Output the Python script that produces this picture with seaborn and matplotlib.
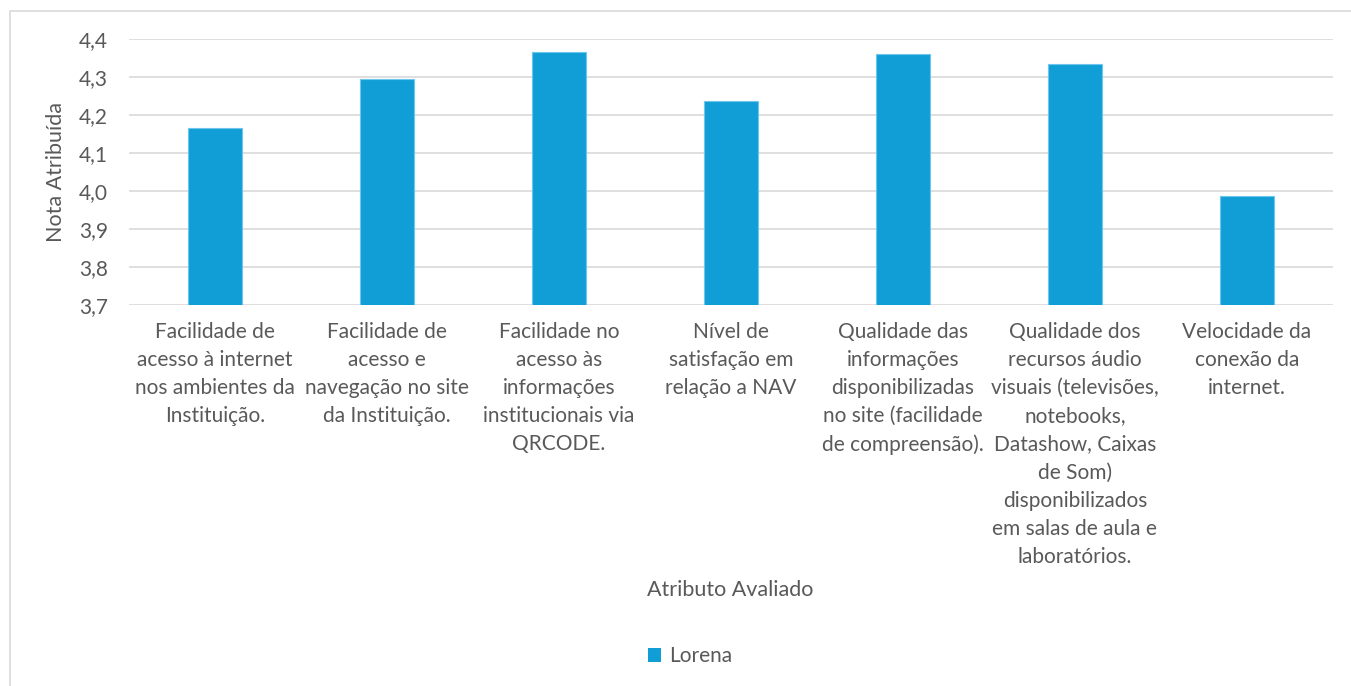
import matplotlib
matplotlib.use("Agg")
import matplotlib.pyplot as plt
import seaborn as sns
import pandas as pd
from matplotlib.ticker import FuncFormatter
from matplotlib.patches import Rectangle

categories = [
    "Facilidade de\nacesso à internet\nnos ambientes da\nInstituição.",
    "Facilidade de\nacesso e\nnavegação no site\nda Instituição.",
    "Facilidade no\nacesso às\ninformações\ninstitucionais via\nQRCODE.",
    "Nível de\nsatisfação em\nrelação a NAV",
    "Qualidade das\ninformações\ndisponibilizadas\nno site (facilidade\nde compreensão).",
    "Qualidade dos\nrecursos áudio\nvisuais (televisões,\nnotebooks,\nDatashow, Caixas\nde Som)\ndisponibilizados\nem salas de aula e\nlaboratórios.",
    "Velocidade da\nconexão da\ninternet.",
]
values = [4.164, 4.295, 4.366, 4.236, 4.359, 4.334, 3.986]
series_name = "Lorena"
yticks = [3.7, 3.8, 3.9, 4.0, 4.1, 4.2, 4.3, 4.4]

df = pd.DataFrame({"Atributo": categories, "Nota": values, "Serie": [series_name] * len(values)})

sns.set_style("white")
plt.rcParams["font.family"] = ["Lato", "DejaVu Sans"]
text_color = "#595959"
bar_color = "#119ED6"

fig = plt.figure(figsize=(13.51, 6.86), dpi=100)
ax = fig.add_axes([128.7 / 1351, 1 - 305 / 686, (1333 - 128.7) / 1351, (305 - 38.7) / 686])

sns.barplot(data=df, x="Atributo", y="Nota", hue="Serie", palette=[bar_color], saturation=1,
            width=0.316, ax=ax, edgecolor="#6cc6ee", linewidth=0.8, legend=False)

ax.set_ylim(3.7, 4.4)
ax.set_yticks(yticks)
ax.yaxis.set_major_formatter(FuncFormatter(lambda v, p: f"{v:.1f}".replace(".", ",")))
ax.grid(axis="y", color="#d9d9d9", linewidth=1.2)
ax.set_axisbelow(True)
for s in ax.spines.values():
    s.set_visible(False)
ax.tick_params(axis="both", length=0, colors=text_color, labelsize=15)
ax.tick_params(axis="y", pad=15)
ax.tick_params(axis="x", pad=12)
for lbl in ax.get_xticklabels():
    lbl.set_linespacing(1.51)
    lbl.set_verticalalignment("top")

ax.set_ylabel("Nota Atribuída", fontsize=15.5, color=text_color)
ax.yaxis.set_label_coords(-0.052, 0.5)
ax.set_xlabel("")
fig.text(730 / 1351, 1 - 590 / 686, "Atributo Avaliado", ha="center", va="center",
         fontsize=15.5, color=text_color)

handles = [Rectangle((0, 0), 1, 1, facecolor=bar_color, edgecolor="none")]
fig.legend(handles, [series_name], loc="center", bbox_to_anchor=(690 / 1351, 1 - 656 / 686),
           frameon=False, fontsize=15, labelcolor=text_color, handlelength=0.65,
           handleheight=0.65, handletextpad=0.4)

border = Rectangle((10 / 1351, -0.1), 1.2, 1 - 11 / 686 + 0.1, transform=fig.transFigure,
                   fill=False, edgecolor="#d9d9d9", linewidth=1.2, clip_on=False)
fig.patches.append(border)

fig.savefig("out.png", dpi=100)
